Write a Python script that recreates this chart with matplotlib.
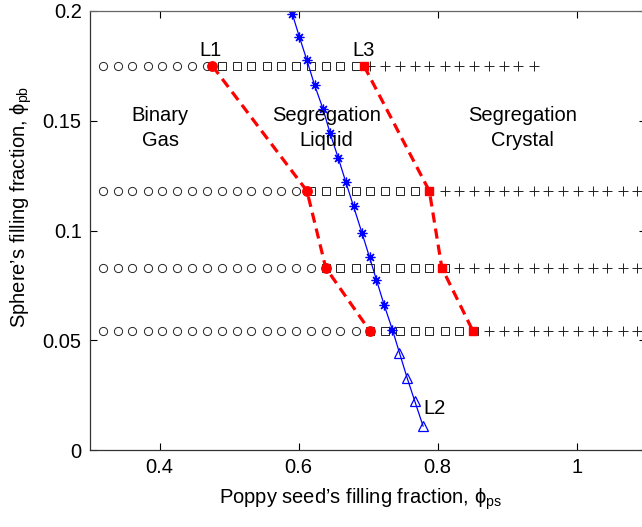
import matplotlib
matplotlib.use("Agg")
import matplotlib.pyplot as plt
import numpy as np

plt.rcParams['font.family'] = ['Liberation Sans', 'DejaVu Sans']
plt.rcParams['mathtext.fontset'] = 'custom'
plt.rcParams['mathtext.rm'] = 'Liberation Sans'
plt.rcParams['mathtext.it'] = 'Liberation Sans:italic'

# Poppy-seed filling fractions sampled in the simulations
phi_ps_grid = [0.319, 0.340, 0.361, 0.383, 0.404, 0.425, 0.447, 0.468, 0.490,
               0.511, 0.532, 0.554, 0.575, 0.596, 0.618, 0.639, 0.660, 0.682,
               0.703, 0.724, 0.746, 0.767, 0.788, 0.810, 0.831, 0.852, 0.874,
               0.895, 0.916, 0.938, 0.959, 0.980, 1.002, 1.023, 1.044, 1.066,
               1.087]

# Sphere filling fractions (one row of runs per value)
phi_pb_rows = [0.175, 0.118, 0.083, 0.054]
# index where each phase region ends along a row (exclusive)
gas_end = [8, 14, 15, 18]
liquid_end = [18, 23, 24, 26]
row_end = [30, 37, 37, 37]

# Phase boundary L1 (gas / liquid)
l1_ps = [0.476, 0.612, 0.639, 0.703]
l1_pb = [0.175, 0.118, 0.083, 0.054]
# Phase boundary L3 (liquid / crystal)
l3_ps = [0.694, 0.788, 0.806, 0.851]
l3_pb = [0.175, 0.118, 0.083, 0.054]
# Line L2
l2_star_ps = [0.591, 0.601, 0.612, 0.623, 0.635, 0.645, 0.657, 0.668, 0.679,
              0.691, 0.702, 0.712, 0.723, 0.735]
l2_star_pb = [0.1986, 0.1883, 0.1775, 0.1662, 0.1555, 0.1446, 0.1330, 0.1220,
              0.1110, 0.0990, 0.0878, 0.0774, 0.0661, 0.0547]
l2_tri_ps = [0.745, 0.756, 0.767, 0.779]
l2_tri_pb = [0.0443, 0.0329, 0.0223, 0.0109]

W, H = 642, 527
fig = plt.figure(figsize=(W / 100, H / 100), dpi=100)
ax = fig.add_axes([90 / W, 1 - 450 / H, (646.3 - 90) / W, (450 - 11) / H])

grid = np.array(phi_ps_grid)
mk = dict(linestyle='none', markersize=5.9, markeredgewidth=0.7,
          markerfacecolor='none', color='#222222')
for pb, g, l, e in zip(phi_pb_rows, gas_end, liquid_end, row_end):
    ax.plot(grid[:g], [pb] * g, marker='o', **mk)
    ax.plot(grid[g:l], [pb] * (l - g), marker='s', **dict(mk, markersize=5.2))
    ax.plot(grid[l:e], [pb] * (e - l), marker='+', **dict(mk, markersize=7))

ax.plot(l2_star_ps + l2_tri_ps, l2_star_pb + l2_tri_pb, color='#0000ff', lw=0.9)
ax.plot(l2_star_ps, l2_star_pb, linestyle='none', marker=(8, 2, 0),
        markersize=7, markeredgewidth=0.9, color='#0000ff')
ax.plot(l2_tri_ps, l2_tri_pb, linestyle='none', marker='^', markersize=7,
        markerfacecolor='none', markeredgewidth=0.9, color='#0000ff')

ax.plot(l1_ps, l1_pb, color='#ff0000', lw=2.3, dashes=(3.2, 1.9),
        marker='o', markersize=6.8)
ax.plot(l3_ps, l3_pb, color='#ff0000', lw=2.3, dashes=(3.2, 1.9),
        marker='s', markersize=6)

fs = 14.5
ax.text(0.474, 0.1819, 'L1', ha='center', va='center', fontsize=fs)
ax.text(0.694, 0.1819, 'L3', ha='center', va='center', fontsize=fs)
ax.text(0.780, 0.019, 'L2', ha='left', va='center', fontsize=fs)
for x, label in [(0.401, 'Binary\nGas'), (0.640, 'Segregation\nLiquid'),
                 (0.922, 'Segregation\nCrystal')]:
    ax.text(x, 0.1466, label, ha='center', va='center', fontsize=fs,
            linespacing=1.38)

ax.set_xlim(0.3, 1.1)
ax.set_ylim(0, 0.2)
ax.set_xticks([0.4, 0.6, 0.8, 1.0])
ax.set_xticklabels(['0.4', '0.6', '0.8', '1'])
ax.set_yticks([0, 0.05, 0.1, 0.15, 0.2])
ax.set_yticklabels(['0', '0.05', '0.1', '0.15', '0.2'])
ax.tick_params(direction='in', top=True, right=True, labelsize=fs,
               length=5, width=0.8, pad=6)
for s in ax.spines.values():
    s.set_linewidth(0.9)
    s.set_color('#333333')
ax.spines['top'].set_color('#666666')

ax.set_xlabel('Poppy seed\u2019s filling fraction, '
              '$\\mathregular{\\phi_{ps}}$', fontsize=fs)
ax.set_ylabel('Sphere\u2019s filling fraction, '
              '$\\mathregular{\\phi_{pb}}$', fontsize=fs)
ax.xaxis.set_label_coords(0.487, -0.084)
ax.yaxis.set_label_coords(-0.101, 0.553)

fig.savefig('out.png', dpi=100)
